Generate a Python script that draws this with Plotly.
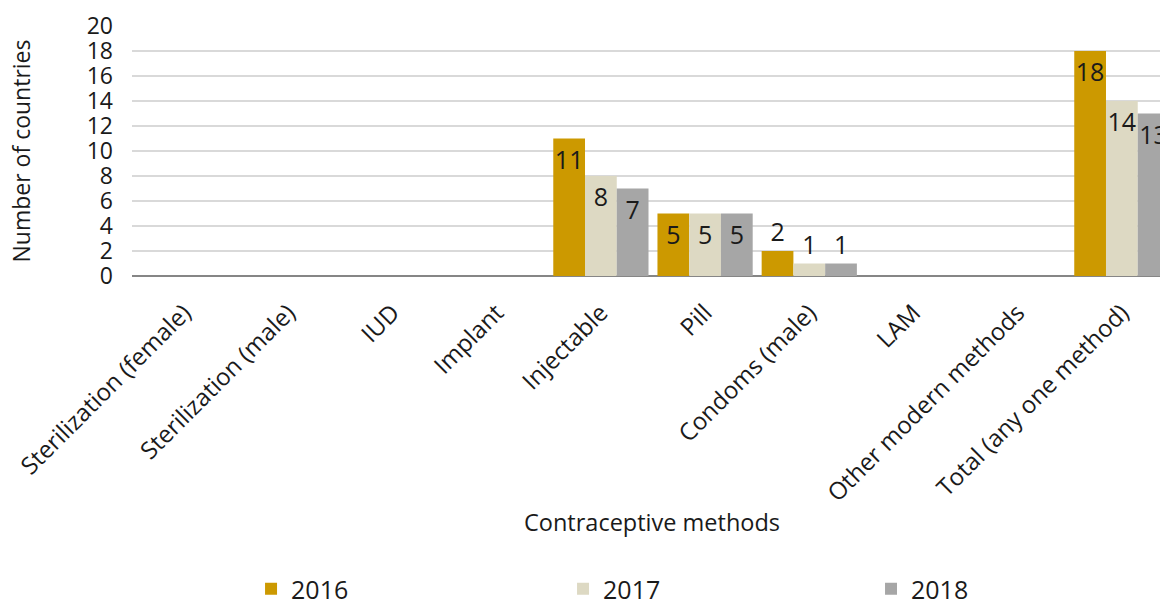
import plotly.graph_objects as go

categories = ["Sterilization (female)", "Sterilization (male)", "IUD", "Implant",
              "Injectable", "Pill", "Condoms (male)", "LAM", "Other modern methods",
              "Total (any one method)"]
years = ["2016", "2017", "2018"]
v2016 = [0, 0, 0, 0, 11, 5, 2, 0, 0, 18]
v2017 = [0, 0, 0, 0, 8, 5, 1, 0, 0, 14]
v2018 = [0, 0, 0, 0, 7, 5, 1, 0, 0, 13]
colors = ["#CC9900", "#DDD9C3", "#A6A6A6"]
y_ticks = [0, 2, 4, 6, 8, 10, 12, 14, 16, 18, 20]

FONT = "Open Sans"
TXT = "#1a1a1a"

legend_ids = ["legend", "legend2", "legend3"]
legend_x = [0.1158, 0.4193, 0.7189]

fig = go.Figure()
for name, vals, col, lg in zip(years, [v2016, v2017, v2018], colors, legend_ids):
    fig.add_trace(go.Bar(
        name=name, x=categories, y=vals, marker_color=col, marker_line_width=0,
        text=[str(v) if v > 0 else "" for v in vals],
        textposition=["inside" if v >= 5 else "outside" for v in vals],
        insidetextanchor="end", textangle=0, constraintext="none",
        textfont=dict(family=FONT, size=25, color=TXT),
        cliponaxis=True, legend=lg,
    ))

legend_style = dict(orientation="h", xanchor="left", y=-1.252, yanchor="middle",
                    font=dict(family=FONT, size=25, color=TXT), itemwidth=30,
                    bgcolor="rgba(0,0,0,0)")

fig.update_layout(
    width=1160, height=599,
    margin=dict(l=132, r=0, t=26, b=323, pad=0, autoexpand=False),
    paper_bgcolor="white", plot_bgcolor="white",
    barmode="group", bargap=0.086, bargroupgap=0,
    font=dict(family=FONT, color=TXT, size=21),
    showlegend=True,
    legend=dict(x=legend_x[0], **legend_style),
    legend2=dict(x=legend_x[1], **legend_style),
    legend3=dict(x=legend_x[2], **legend_style),
    xaxis=dict(range=[-0.5, 9.366], tickangle=-45, showgrid=False, automargin=False,
               tickfont=dict(family=FONT, size=24, color=TXT), ticklabelstandoff=17,
               showline=False, zeroline=False),
    yaxis=dict(range=[0, 20], tickvals=y_ticks, showgrid=True, gridcolor="#D9D9D9",
               gridwidth=1.5, zeroline=True, zerolinecolor="#868686", zerolinewidth=2,
               automargin=False,
               tickfont=dict(family=FONT, size=23, color=TXT), ticklabelstandoff=18,
               title=dict(text="Number of countries", standoff=49,
                          font=dict(family=FONT, size=23, color=TXT))),
    annotations=[dict(text="Contraceptive methods", xref="paper", yref="paper",
                      x=0.506, y=-0.984, xanchor="center", yanchor="middle",
                      showarrow=False, font=dict(family=FONT, size=23.5, color=TXT))],
)

fig.write_html("out.html")
